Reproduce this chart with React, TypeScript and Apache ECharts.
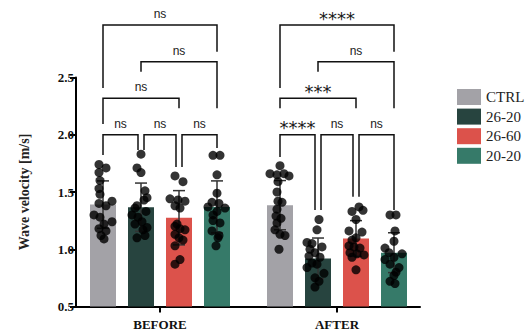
import React, { useEffect, useRef } from "react";
import * as echarts from "echarts";

// ---------- data ----------
const groups = ["BEFORE", "AFTER"];
const seriesNames = ["CTRL", "26-20", "26-60", "20-20"];
const seriesColors = ["#a3a2a7", "#27443f", "#dc524b", "#367a69"];

// bar means per series: [BEFORE, AFTER]
const meanCTRL = [1.39, 1.385];
const mean2620 = [1.367, 0.92];
const mean2660 = [1.275, 1.094];
const mean2020 = [1.37, 0.97];
// standard deviations per series: [BEFORE, AFTER]
const sdCTRL = [0.207, 0.215];
const sd2620 = [0.211, 0.178];
const sd2660 = [0.237, 0.156];
const sd2020 = [0.227, 0.174];

// individual points
const ptsCTRLBefore = [1.74, 1.71, 1.67, 1.6, 1.53, 1.48, 1.42, 1.4, 1.38, 1.3, 1.28, 1.24, 1.22, 1.18, 1.16, 1.12, 1.09];
const pts2620Before = [1.83, 1.71, 1.67, 1.51, 1.45, 1.43, 1.38, 1.36, 1.33, 1.3, 1.28, 1.24, 1.22, 1.19, 1.17, 1.12, 1.1];
const pts2660Before = [1.64, 1.59, 1.44, 1.43, 1.42, 1.38, 1.36, 1.22, 1.2, 1.18, 1.17, 1.13, 1.1, 1.08, 1.03, 0.91, 0.87];
const pts2020Before = [1.82, 1.82, 1.65, 1.49, 1.41, 1.4, 1.37, 1.36, 1.33, 1.3, 1.25, 1.23, 1.16, 1.12, 1.1, 1.03];
const ptsCTRLAfter = [1.73, 1.66, 1.65, 1.66, 1.64, 1.59, 1.5, 1.42, 1.41, 1.35, 1.29, 1.27, 1.23, 1.17, 1.13, 1.12, 1.0];
const pts2620After = [1.26, 1.17, 1.06, 1.05, 1.02, 1.0, 0.97, 0.94, 0.93, 0.88, 0.87, 0.84, 0.79, 0.75, 0.72, 0.67];
const pts2660After = [1.37, 1.34, 1.33, 1.26, 1.16, 1.15, 1.1, 1.08, 1.03, 1.02, 1.01, 0.97, 0.96, 0.95, 0.93, 0.82];
const pts2020After = [1.3, 1.3, 1.16, 1.07, 1.01, 0.97, 0.96, 0.93, 0.91, 0.87, 0.84, 0.8, 0.77, 0.72, 0.7];

// significance brackets: [group, barA, barB, lineY, legEndA, legEndB, label]
const brackets: [number, number, number, number, number, number, string][] = [
  [0, 0, 3, 2.958, 2.408, 2.725, "ns"],
  [0, 1, 3, 2.638, 2.551, 2.231, "ns"],
  [0, 0, 2, 2.318, 2.094, 2.231, "ns"],
  [0, 0, 1, 2.0, 1.823, 1.867, "ns"],
  [0, 1, 2, 2.0, 1.867, 1.718, "ns"],
  [0, 2, 3, 2.0, 1.718, 1.884, "ns"],
  [1, 0, 3, 2.958, 2.408, 2.725, "****"],
  [1, 1, 3, 2.638, 2.551, 2.231, "ns"],
  [1, 0, 2, 2.318, 2.231, 2.231, "***"],
  [1, 0, 1, 2.0, 1.806, 1.343, "****"],
  [1, 1, 2, 2.0, 1.343, 1.459, "ns"],
  [1, 2, 3, 2.0, 1.459, 1.343, "ns"],
];

const yMin = 0.5;
const yMax = 2.5;
const yStep = 0.5;

// ---------- layout (pixels / pitch units) ----------
const PITCH = 38; // px between bar centres
const GROUP_SPACING = 177 / PITCH; // in pitch units
const groupCenters = [0, GROUP_SPACING];
const X_MIN = -1.5 - 27 / PITCH;
const X_MAX = GROUP_SPACING + 1.5 + 26 / PITCH;

// horizontal jitter of the dots, in px
const jitCTRLBefore = [-4, 3, -4, -3, -4, -3, 9, -4, 3, -9, -3, 9, 1, -4, 3, -2, 1];
const jit2620Before = [0, -4, 0, 4, 6, 3, -4, -6, 5, -9, -3, 1, -6, 6, 2, 4, -4];
const jit2660Before = [-4, 4, -9, -1, 6, -4, 1, -2, -4, 1, 6, -4, 0, 4, -4, 1, -4];
const jit2020Before = [-4, 3, 0, 0, -5, 2, -9, 8, 0, -4, -4, 3, -5, 2, 1, -1];
const jitCTRLAfter = [0, -10, -3, 4, 9, -2, -3, -2, 2, -3, -4, 1, -3, -5, 0, 5, -1];
const jit2620After = [1, -1, -11, -6, 4, -8, -3, -9, 2, -6, -1, -11, 6, -3, 1, -3];
const jit2660After = [3, 7, -4, 0, -7, 6, 0, -4, -7, -2, 4, -6, 1, 8, -4, 0];
const jit2020After = [-4, 2, 1, 0, -9, -5, 8, 0, -9, -4, 5, 2, 0, -4, 1];

const means = [meanCTRL, mean2620, mean2660, mean2020];
const sds = [sdCTRL, sd2620, sd2660, sd2020];
const points = [
  [ptsCTRLBefore, ptsCTRLAfter],
  [pts2620Before, pts2620After],
  [pts2660Before, pts2660After],
  [pts2020Before, pts2020After],
];
const jitters = [
  [jitCTRLBefore, jitCTRLAfter],
  [jit2620Before, jit2620After],
  [jit2660Before, jit2660After],
  [jit2020Before, jit2020After],
];

const barX = (g: number, i: number) => groupCenters[g] + (i - 1.5);

const SERIF = "'Liberation Serif', 'Times New Roman', serif";
const SANS = "'Liberation Sans', Arial, sans-serif";

export default function App() {
  const ref = useRef<HTMLDivElement>(null);

  useEffect(() => {
    if (!ref.current) return;
    const chart = echarts.init(ref.current, undefined, { renderer: "svg" });

    const barSeries = seriesNames.map((name, i) => ({
      name,
      type: "bar",
      barWidth: 26,
      barGap: "-100%",
      clip: true,
      itemStyle: { color: seriesColors[i] },
      data: groups.map((_, g) => [barX(g, i), means[i][g]]),
      z: 2,
    }));

    const errData: number[][] = [];
    seriesNames.forEach((_, i) =>
      groups.forEach((__, g) => errData.push([barX(g, i), means[i][g], sds[i][g]]))
    );

    const dotData: number[][] = [];
    seriesNames.forEach((_, i) =>
      groups.forEach((__, g) =>
        points[i][g].forEach((v, k) => dotData.push([barX(g, i) + jitters[i][g][k] / PITCH, v]))
      )
    );

    const option: any = {
      animation: false,
      grid: { left: 76, right: 106, top: 77.5, bottom: 28.5 },
      legend: {
        data: seriesNames,
        orient: "vertical",
        left: 452,
        top: 84,
        itemWidth: 24,
        itemHeight: 16,
        itemGap: 3.6,
        icon: "rect",
        textStyle: { fontFamily: SERIF, fontSize: 15, color: "#222", lineHeight: 16 },
      },
      xAxis: {
        type: "value",
        min: X_MIN,
        max: X_MAX,
        splitLine: { show: false },
        axisLine: { show: true, onZero: false, lineStyle: { color: "#000", width: 2 } },
        axisTick: {
          show: true,
          customValues: groupCenters,
          length: 6,
          lineStyle: { color: "#000", width: 2 },
        },
        axisLabel: {
          customValues: groupCenters,
          formatter: (v: number) => (v < GROUP_SPACING / 2 ? groups[0] : groups[1]),
          margin: 11,
          fontFamily: SERIF,
          fontWeight: "bold",
          fontSize: 13,
          color: "#111",
        },
      },
      yAxis: {
        type: "value",
        min: yMin,
        max: yMax,
        interval: yStep,
        name: "Wave velocity [m/s]",
        nameLocation: "middle",
        nameGap: 45,
        nameTextStyle: { fontFamily: SERIF, fontWeight: "bold", fontSize: 14, color: "#222" },
        splitLine: { show: false },
        axisLine: { show: true, onZero: false, lineStyle: { color: "#000", width: 2 } },
        axisTick: { show: true, length: 6, lineStyle: { color: "#000", width: 2 } },
        axisLabel: {
          formatter: (v: number) => v.toFixed(1),
          margin: 2,
          fontFamily: SERIF,
          fontWeight: "bold",
          fontSize: 13,
          color: "#111",
        },
      },
      series: [
        ...barSeries,
        {
          type: "custom",
          name: "errorbars",
          data: errData,
          z: 3,
          clip: false,
          renderItem: (params: any, api: any) => {
            const x = api.value(0);
            const m = api.value(1);
            const s = api.value(2);
            const top = api.coord([x, m + s]);
            const bot = api.coord([x, m - s]);
            const cap = 6;
            const st = { stroke: "#333", lineWidth: 1.5 };
            return {
              type: "group",
              children: [
                { type: "line", shape: { x1: top[0], y1: top[1], x2: bot[0], y2: bot[1] }, style: st },
                { type: "line", shape: { x1: top[0] - cap, y1: top[1], x2: top[0] + cap, y2: top[1] }, style: st },
                { type: "line", shape: { x1: bot[0] - cap, y1: bot[1], x2: bot[0] + cap, y2: bot[1] }, style: st },
              ],
            };
          },
        },
        {
          type: "scatter",
          name: "points",
          data: dotData,
          symbolSize: 9,
          itemStyle: { color: "#000" },
          z: 4,
        },
        {
          type: "custom",
          name: "brackets",
          data: brackets.map((b) => [barX(b[0], b[1]), b[3]]),
          z: 5,
          clip: false,
          renderItem: (params: any, api: any) => {
            const [g, a, c, yl, ya, yc, label] = brackets[params.dataIndex];
            const xa = barX(g, a);
            const xc = barX(g, c);
            let x1 = api.coord([xa, yl])[0];
            let x2 = api.coord([xc, yl])[0];
            if (c - a === 1) {
              if (a >= 1) x1 += 3;
              if (c <= 2) x2 -= 3;
            }
            const yLine = api.coord([xa, yl])[1];
            const yA = api.coord([xa, ya])[1];
            const yC = api.coord([xc, yc])[1];
            const isStar = label.indexOf("*") >= 0;
            return {
              type: "group",
              children: [
                {
                  type: "polyline",
                  shape: { points: [[x1, yA], [x1, yLine], [x2, yLine], [x2, yC]] },
                  style: { stroke: "#111", lineWidth: 1.5, fill: "none" },
                },
                {
                  type: "text",
                  style: {
                    text: label,
                    x: (x1 + x2) / 2,
                    y: isStar ? yLine - 7 : yLine - 5,
                    align: "center",
                    verticalAlign: isStar ? "middle" : "bottom",
                    fontFamily: isStar ? "'DejaVu Sans', sans-serif" : SANS,
                    fontSize: isStar ? 18 : 12,
                    fill: "#1a1a1a",
                  },
                },
              ],
            };
          },
        },
      ],
    };

    chart.setOption(option);
    return () => chart.dispose();
  }, []);

  return (
    <div
      ref={ref}
      style={{ position: "fixed", left: 0, top: 0, width: 526, height: 335, background: "#fff" }}
    />
  );
}
